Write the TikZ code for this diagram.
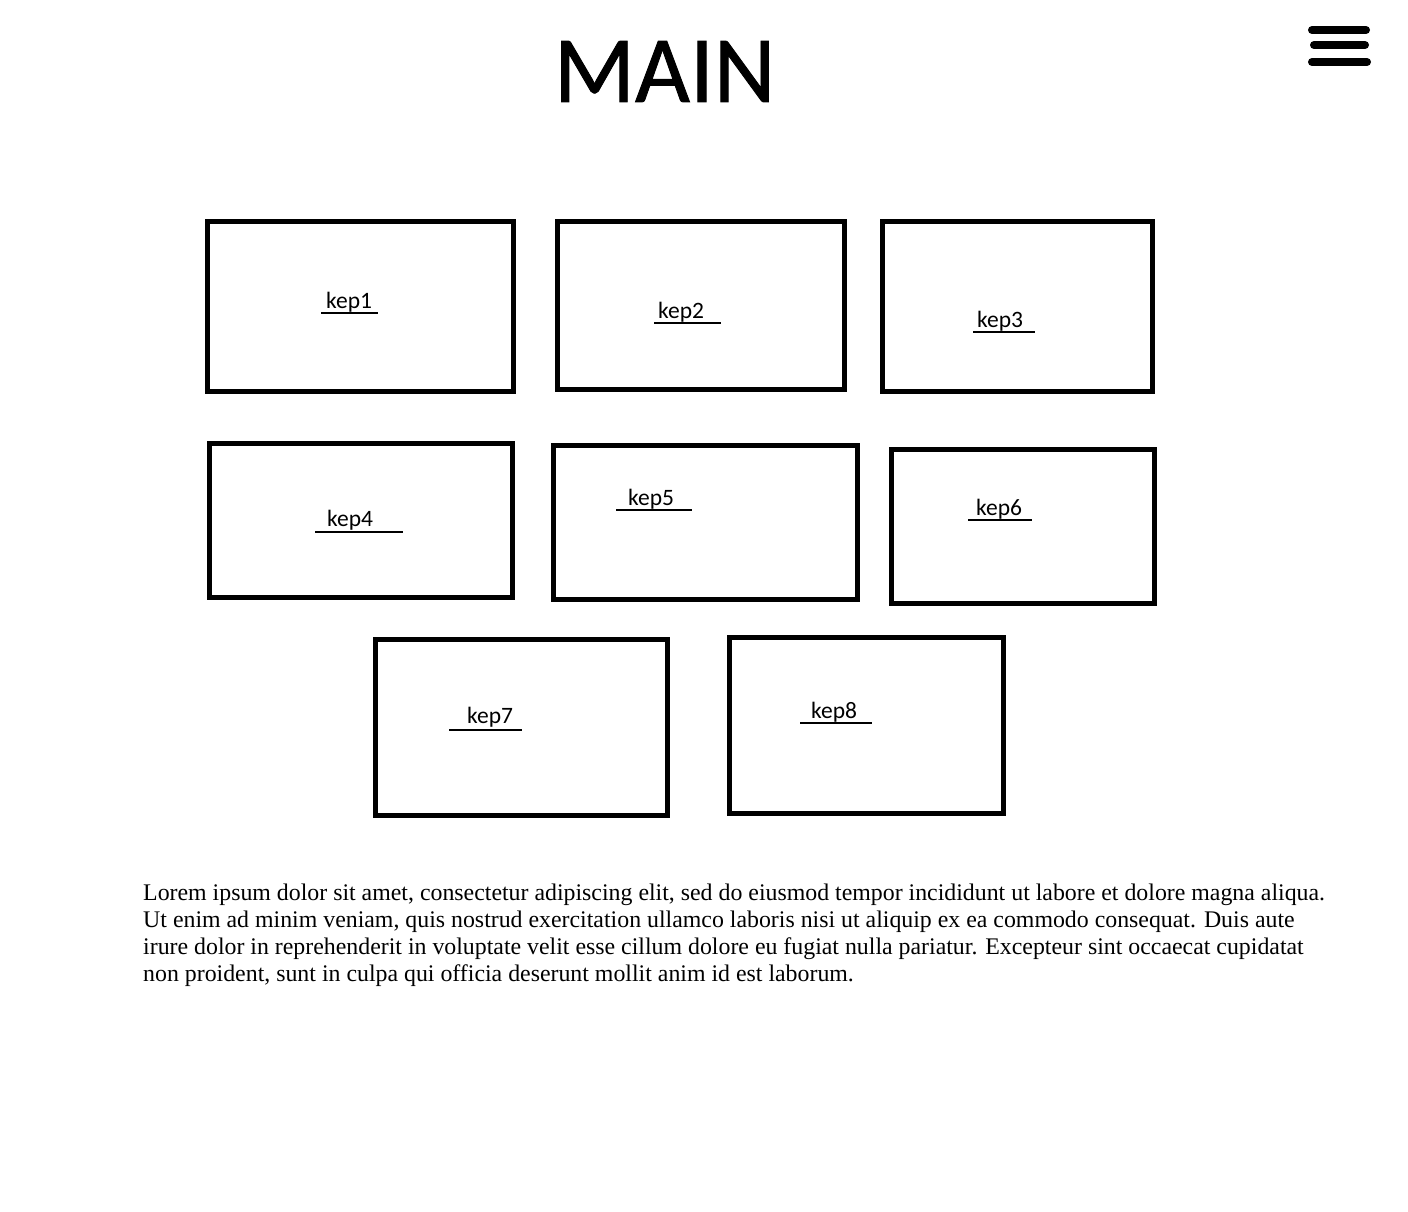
\documentclass[tikz,border=0pt]{standalone}
\usepackage{fontspec}
\setmainfont{Liberation Serif}
\newfontfamily\calibri{Carlito}
\newfontfamily\calibrititle[FakeBold=0.9]{Carlito}
\begin{document}
\begin{tikzpicture}[x=1pt,y=-1pt,
  kepbox/.style={draw=black, line width=5pt, inner sep=0pt, fill=none},
  keplabel/.style={anchor=base west, inner sep=0pt, font=\calibri\fontsize{23.5}{28}\selectfont},
  uline/.style={line width=1.2pt},
  burger/.style={line width=8pt, line cap=round},
  para/.style={anchor=base west, inner sep=0pt, font=\fontsize{23.84}{27.4}\selectfont}]
\useasboundingbox[fill=white] (0,0) rectangle (1408,1212);

% title
\node[anchor=base, inner sep=0pt, font=\calibrititle\fontsize{95}{95}\selectfont] (title) at (664.5,102) {MAIN};

% hamburger menu
\draw[burger] (1312,30) -- (1366,30);
\draw[burger] (1314,45) -- (1365,45);
\draw[burger] (1312,62) -- (1367,62);

% boxes: (x1,y1) (x2,y2) centre lines
\newcommand{\kepbox}[5]{%
  \node[kepbox, minimum width={#4-#2}, minimum height={#5-#3}] (#1) at ({(#2+#4)/2},{(#3+#5)/2}) {};}
\kepbox{b1}{207.5}{221.5}{513.5}{391.5}
\kepbox{b2}{557}{221}{844}{389}
\kepbox{b3}{882}{221}{1152}{391}
\kepbox{b4}{209}{443}{512}{597}
\kepbox{b5}{553}{445}{857}{599}
\kepbox{b6}{891}{449}{1154}{603}
\kepbox{b7}{375}{639}{667}{815}
\kepbox{b8}{729}{637}{1003}{813}

% labels
\node[keplabel] (l1) at (326,308) {kep1};
\draw[uline] (321,313) -- (378,313);
\node[keplabel] (l2) at (658,318) {kep2};
\draw[uline] (654,323) -- (721,323);
\node[keplabel] (l3) at (977,327) {kep3};
\draw[uline] (973,332) -- (1035,332);
\node[keplabel] (l4) at (327,526) {kep4};
\draw[uline] (315,532) -- (403,532);
\node[keplabel] (l5) at (628,505) {kep5};
\draw[uline] (616,510) -- (692,510);
\node[keplabel] (l6) at (976,515) {kep6};
\draw[uline] (968,520) -- (1032,520);
\node[keplabel] (l7) at (467,723) {kep7};
\draw[uline] (449,730) -- (522,730);
\node[keplabel] (l8) at (811,718) {kep8};
\draw[uline] (800,723) -- (872,723);

% paragraph
\node[para] (p1) at (143,900) {Lorem ipsum dolor sit amet, consectetur adipiscing elit, sed do eiusmod tempor incididunt ut labore et dolore magna aliqua.};
\node[para] (p2) at (143,927.3) {Ut enim ad minim veniam, quis nostrud exercitation ullamco laboris nisi ut aliquip ex ea commodo consequat. Duis aute};
\node[para] (p3) at (143,954.6) {irure dolor in reprehenderit in voluptate velit esse cillum dolore eu fugiat nulla pariatur. Excepteur sint occaecat cupidatat};
\node[para] (p4) at (143,981.9) {non proident, sunt in culpa qui officia deserunt mollit anim id est laborum.};
\end{tikzpicture}
\end{document}
